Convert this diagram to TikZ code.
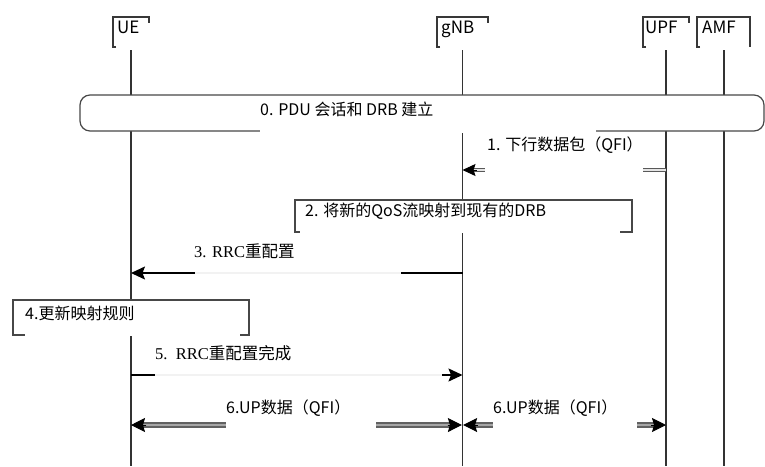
\documentclass[tikz,border=0pt]{standalone}
\usepackage{fontspec}
\setmainfont{Noto Sans CJK SC}
\newfontfamily\cjk{Noto Sans CJK SC}
\newfontfamily\lserif{Liberation Serif}
\usetikzlibrary{arrows.meta}
\tikzset{
  life/.style={draw=black!80, line width=1.2pt},
  headbox/.style={draw=black!78, line width=1.3pt},
  hlabel/.style={anchor=base west, inner sep=0pt, font=\fontsize{17}{17}\selectfont},
  lbl/.style={anchor=base west, inner sep=0pt, font=\fontsize{16}{16}\selectfont},
  slbl/.style={anchor=base west, inner sep=0pt, font=\fontsize{16.5}{16.5}\selectfont},
  actbox/.style={draw=black!72, line width=1.2pt, fill=white},
  mask/.style={fill=white},
  fmask/.style={fill=white, fill opacity=0.95},
  thinmsg/.style={draw=black, line width=1.4pt, -{Stealth[length=14pt,width=13pt,inset=2.5pt]}},
  dblone/.style={draw=black!65, double=black!10, line width=1.3pt, double distance=2.2pt},
  dblsix/.style={draw=black!62, double=black!35, line width=1.5pt, double distance=2.6pt},
  tipone/.style={-{Stealth[length=13pt,width=12pt,inset=2pt]}, line width=1pt, draw=black, fill=black},
  tipsix/.style={-{Stealth[length=14pt,width=14pt,inset=2pt]}, line width=1pt, draw=black, fill=black},
}
\begin{document}
\begin{tikzpicture}[x=1pt,y=-1pt]
\useasboundingbox (0,0) rectangle (765,466);
% lifeline coordinates
\foreach \n/\x in {ue/131,gnb/462.5,upf/666,amf/724}{
  \coordinate (\n T) at (\x,50);
  \coordinate (\n B) at (\x,466);
}
\coordinate (gnbA) at (462.5,170); \coordinate (upfA) at (666,170);
\coordinate (gnbC) at (462.5,273); \coordinate (ueC) at (131,273);
\coordinate (ueE) at (131,375);   \coordinate (gnbE) at (462.5,375);
\coordinate (ueF) at (131,425);   \coordinate (gnbF) at (462.5,425); \coordinate (upfF) at (666,425);

% lifelines
\draw[life] (ueT) -- (ueB);
\draw[life] (gnbT) -- (gnbB);
\draw[life] (upfT) -- (upfB);
\draw[life] (amfT) -- (amfB);

% headers
\draw[headbox] (116,47) -- (113,47) -- (113,17) -- (149,17) -- (149,23);
\node[hlabel] (ue) at (117,33) {UE};
\draw[headbox] (440,47) -- (437,47) -- (437,17) -- (488,17) -- (488,23);
\node[hlabel] (gnb) at (441,33) {gNB};
\draw[headbox] (646,47) -- (643,47) -- (643,17) -- (689,17) -- (689,23);
\node[hlabel] (upf) at (645,33) {UPF};
\draw[headbox] (700,47) -- (697,47) -- (697,17) -- (750,17) -- (750,47);
\node[hlabel] (amf) at (702,33) {AMF};

% 0. box
\draw[actbox, rounded corners=10pt] (80,95) rectangle (764,131);
\fill[mask] (260,117) rectangle (596,132.5);
\node[lbl] (t0) at (260,115) {0. PDU 会话和 DRB 建立};

% 1. downlink packet
\draw[dblone] (upfA) -- ([xshift=10pt]gnbA);
\draw[tipone] ([xshift=14pt]gnbA) -- (gnbA);
\fill[mask] (485,136) rectangle (643,175.5);
\node[lbl] (t1) at (487,150) {1. 下行数据包（QFI）};

% 2. box
\draw[actbox] (295,200) rectangle (632,232);
\fill[mask] (300,215) rectangle (620,233);
\node[lbl] (t2) at (305,216) {2. 将新的QoS流映射到现有的DRB};

% 3. RRC reconfiguration
\draw[thinmsg] (gnbC) -- (ueC);
\fill[fmask] (195,245) rectangle (401,276);
\node[slbl] (t3) at (194,257) {{\lserif 3. RRC}重配置};

% 4. box
\draw[actbox] (13,300) rectangle (249,335);
\fill[mask] (25,318) rectangle (240,336);
\node[lbl] (t4) at (25,319) {4.更新映射规则};

% 5. RRC reconfiguration complete
\draw[thinmsg] (ueE) -- (gnbE);
\fill[fmask] (155,346) rectangle (442,378);
\node[slbl] (t5) at (155,359) {{\lserif 5.\ \ RRC}重配置完成};

% 6. UP data UE <-> gNB
\draw[dblsix] ([xshift=11pt]ueF) -- ([xshift=-11pt]gnbF);
\draw[tipsix] ([xshift=15pt]ueF) -- (ueF);
\draw[tipsix] ([xshift=-15pt]gnbF) -- ([xshift=-0.6pt]gnbF);
\fill[mask] (226,398) rectangle (376,431);
\node[lbl] (t6a) at (226,413) {6.UP数据（QFI）};

% 6. UP data gNB <-> UPF
\draw[dblsix] ([xshift=11pt]gnbF) -- ([xshift=-11pt]upfF);
\draw[tipsix] ([xshift=15pt]gnbF) -- ([xshift=0.6pt]gnbF);
\draw[tipsix] ([xshift=-15pt]upfF) -- (upfF);
\fill[mask] (493,398) rectangle (637,431);
\node[lbl] (t6b) at (493,413) {6.UP数据（QFI）};
\end{tikzpicture}
\end{document}
